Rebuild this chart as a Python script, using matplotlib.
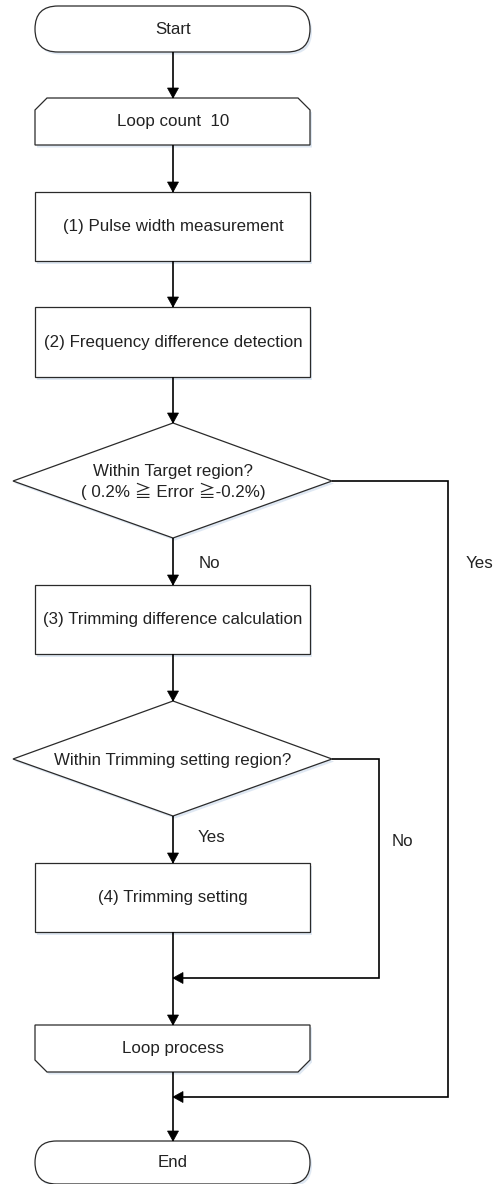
import matplotlib
matplotlib.use("Agg")
from matplotlib import pyplot as plt
from matplotlib.patches import FancyBboxPatch, Polygon

plt.rcParams['font.family'] = ['Liberation Sans', 'Noto Sans CJK JP', 'DejaVu Sans']

# node texts, top to bottom
start_label = "Start"
loop_label = "Loop count  10"
step_labels = ["(1) Pulse width measurement",
               "(2) Frequency difference detection",
               "(3) Trimming difference calculation",
               "(4) Trimming setting"]
decision_labels = ["Within Target region?\n( 0.2% \u2267 Error \u2267-0.2%)",
                   "Within Trimming setting region?"]
loop_end_label = "Loop process"
end_label = "End"
branch_labels = ["No", "Yes", "Yes", "No"]

# layout (pixel space, y grows downwards)
CX = 173
LEFT, RIGHT = 35, 310
W, H = 1184, 494
TXT = '#222222'
EDGE = '#2a2a2a'
SHADOW = '#dfe8f3'
FS = 12.2


def shadowed(ax, patch_fn):
  sh = patch_fn(2.0, 2.5)
  sh.set_facecolor(SHADOW)
  sh.set_edgecolor('none')
  ax.add_patch(sh)
  p = patch_fn(0, 0)
  p.set_facecolor('white')
  p.set_edgecolor(EDGE)
  p.set_linewidth(0.9)
  ax.add_patch(p)


def terminator(ax, top, bottom, label):
  h = bottom - top
  shadowed(ax, lambda dx, dy: FancyBboxPatch(
      (LEFT + dx, top + dy), RIGHT - LEFT, h,
      boxstyle=f"round,pad=0,rounding_size={h / 2}"))
  ax.text(CX, (top + bottom) / 2, label, ha='center', va='center',
          fontsize=FS, color=TXT)


def box(ax, top, bottom, label):
  shadowed(ax, lambda dx, dy: Polygon(
      [(LEFT + dx, top + dy), (RIGHT + dx, top + dy),
       (RIGHT + dx, bottom + dy), (LEFT + dx, bottom + dy)], closed=True))
  ax.text(CX, (top + bottom) / 2, label, ha='center', va='center',
          fontsize=FS, color=TXT)


def loop_box(ax, top, bottom, label, chamfer_top=True):
  c = 12
  if chamfer_top:
    pts = [(LEFT, top + c), (LEFT + c, top), (RIGHT - c, top), (RIGHT, top + c),
           (RIGHT, bottom), (LEFT, bottom)]
  else:
    pts = [(LEFT, top), (RIGHT, top), (RIGHT, bottom - c), (RIGHT - c, bottom),
           (LEFT + c, bottom), (LEFT, bottom - c)]
  shadowed(ax, lambda dx, dy: Polygon([(x + dx, y + dy) for x, y in pts],
                                      closed=True))
  ax.text(CX, (top + bottom) / 2, label, ha='center', va='center',
          fontsize=FS, color=TXT)


def diamond(ax, top, mid, bottom, label, left=13, right=332):
  pts = [(CX, top), (right, mid), (CX, bottom), (left, mid)]
  shadowed(ax, lambda dx, dy: Polygon([(x + dx, y + dy) for x, y in pts],
                                      closed=True))
  ax.text(CX, mid + 1, label, ha='center', va='center', fontsize=FS,
          color=TXT, linespacing=1.3)


def arrow(ax, pts):
  xs = [p[0] for p in pts]
  ys = [p[1] for p in pts]
  ax.plot(xs, ys, color='black', lw=1.2, solid_capstyle='butt',
          solid_joinstyle='miter')
  (x0, y0), (x1, y1) = pts[-2], pts[-1]
  L, hw = 10, 5.5
  if x0 == x1:
    s = 1 if y1 > y0 else -1
    tri = [(x1, y1), (x1 - hw, y1 - s * L), (x1 + hw, y1 - s * L)]
  else:
    s = 1 if x1 > x0 else -1
    tri = [(x1, y1), (x1 - s * L, y1 - hw), (x1 - s * L, y1 + hw)]
  ax.add_patch(Polygon(tri, closed=True, facecolor='black',
                       edgecolor='black', lw=0.5))


fig = plt.figure(figsize=(4.94, 11.84), dpi=100)
ax = fig.add_axes([0, 0, 1, 1])
ax.set_xlim(0, H)
ax.set_ylim(W, 0)
ax.axis('off')

terminator(ax, 6, 52, start_label)
loop_box(ax, 98, 145, loop_label, chamfer_top=True)
box(ax, 192, 261, step_labels[0])
box(ax, 307, 377, step_labels[1])
diamond(ax, 423, 481, 538, decision_labels[0])
box(ax, 585, 654, step_labels[2])
diamond(ax, 701, 759, 816, decision_labels[1])
box(ax, 863, 932, step_labels[3])
loop_box(ax, 1025, 1072, loop_end_label, chamfer_top=False)
terminator(ax, 1141, 1184, end_label)

arrow(ax, [(CX, 52), (CX, 98)])
arrow(ax, [(CX, 145), (CX, 192)])
arrow(ax, [(CX, 261), (CX, 307)])
arrow(ax, [(CX, 377), (CX, 423)])
arrow(ax, [(CX, 538), (CX, 585)])
arrow(ax, [(CX, 654), (CX, 701)])
arrow(ax, [(CX, 816), (CX, 863)])
arrow(ax, [(CX, 932), (CX, 1025)])
arrow(ax, [(CX, 1072), (CX, 1141)])
arrow(ax, [(332, 759), (379, 759), (379, 978), (CX, 978)])
arrow(ax, [(332, 481), (448, 481), (448, 1097), (CX, 1097)])

ax.text(199, 563, branch_labels[0], ha='left', va='center', fontsize=FS, color=TXT)
ax.text(466, 563, branch_labels[1], ha='left', va='center', fontsize=FS, color=TXT)
ax.text(198, 838, branch_labels[2], ha='left', va='center', fontsize=FS, color=TXT)
ax.text(392, 842, branch_labels[3], ha='left', va='center', fontsize=FS, color=TXT)

plt.savefig("out.png", dpi=100)
